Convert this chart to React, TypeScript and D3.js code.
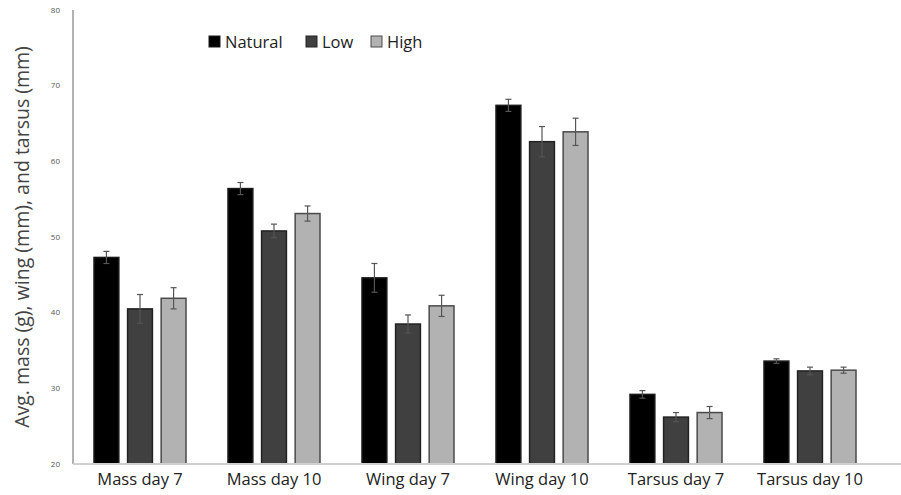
import * as d3 from 'd3';

const categories = ['Mass day 7', 'Mass day 10', 'Wing day 7', 'Wing day 10', 'Tarsus day 7', 'Tarsus day 10'];
const seriesNames = ['Natural', 'Low', 'High'];
const natural = [47.3, 56.4, 44.6, 67.4, 29.2, 33.6];
const low = [40.5, 50.8, 38.5, 62.6, 26.2, 32.3];
const high = [41.9, 53.1, 40.9, 63.9, 26.8, 32.4];
const naturalErr = [0.8, 0.8, 1.9, 0.8, 0.5, 0.3];
const lowErr = [1.9, 0.9, 1.2, 2.0, 0.6, 0.5];
const highErr = [1.4, 1.0, 1.4, 1.8, 0.8, 0.4];
const yTicks = [20, 30, 40, 50, 60, 70, 80];

const fills = ['#000000', '#404040', '#b2b2b2'];
const strokes = ['#1a1a1a', '#222222', '#4a4a4a'];

export default function App() {
  const width = 901;
  const height = 495;
  const margin = { left: 73, right: 24, top: 10, bottom: 31 };

  const x = d3.scaleBand().domain(categories).range([margin.left, width - margin.right]).paddingInner(0).paddingOuter(0);
  const inner = d3.scaleBand().domain(seriesNames).range([0, 92]).paddingInner(0.26);
  const groupOffset = (x.bandwidth() - 92) / 2;
  const y = d3.scaleLinear().domain([20, 80]).range([height - margin.bottom, margin.top]);

  const values = [natural, low, high];
  const errs = [naturalErr, lowErr, highErr];
  const font = '"Open Sans", "Liberation Sans", sans-serif';

  return (
    <svg width={width} height={height} style={{ position: 'absolute', left: 0, top: 0, background: '#fff' }}>
      {/* y axis */}
      <line x1={margin.left} x2={margin.left} y1={y(80)} y2={y(20)} stroke="#999" strokeWidth={1.5} />
      {yTicks.map((t) => (
        <text key={t} x={margin.left - 13} y={y(t)} dy="0.35em" textAnchor="end" fontSize={8} fill="#555" fontFamily={font}>
          {t}
        </text>
      ))}
      <text
        transform={`translate(22, ${(y(20) + y(80)) / 2}) rotate(-90)`}
        textAnchor="middle"
        dy="0.35em"
        fontSize={19.5}
        fill="#444"
        fontFamily={font}
      >
        Avg. mass (g), wing (mm), and tarsus (mm)
      </text>

      {/* bars */}
      {categories.map((c, ci) => (
        <g key={c} transform={`translate(${(x(c) ?? 0) + groupOffset}, 0)`}>
          {seriesNames.map((s, si) => {
            const v = values[si][ci];
            const e = errs[si][ci];
            const bx = inner(s) ?? 0;
            const bw = inner.bandwidth();
            const cx = bx + bw / 2;
            return (
              <g key={s}>
                <rect x={bx} y={y(v)} width={bw} height={y(20) - y(v)} fill={fills[si]} stroke={strokes[si]} strokeWidth={1.5} />
                <line x1={cx} x2={cx} y1={y(v + e)} y2={y(v - e)} stroke="#555" strokeWidth={1.2} />
                <line x1={cx - 3} x2={cx + 3} y1={y(v + e)} y2={y(v + e)} stroke="#555" strokeWidth={1.2} />
                <line x1={cx - 3} x2={cx + 3} y1={y(v - e)} y2={y(v - e)} stroke="#555" strokeWidth={1.2} />
              </g>
            );
          })}
        </g>
      ))}

      {/* x axis */}
      <line x1={margin.left} x2={width} y1={y(20)} y2={y(20)} stroke="#d0d0d0" strokeWidth={2} />
      {categories.map((c) => (
        <text
          key={c}
          x={(x(c) ?? 0) + x.bandwidth() / 2}
          y={y(20) + 21}
          textAnchor="middle"
          fontSize={16.5}
          fill="#222"
          fontFamily={font}
        >
          {c}
        </text>
      ))}

      {/* legend */}
      {seriesNames.map((s, si) => {
        const lx = [209, 306, 371][si];
        return (
          <g key={s} transform={`translate(${lx}, 42)`}>
            <rect x={0} y={-6} width={11} height={11} fill={fills[si]} stroke={strokes[si]} strokeWidth={1} />
            <text x={16} y={0} dy="0.35em" fontSize={16.5} fill="#222" fontFamily={font}>
              {s}
            </text>
          </g>
        );
      })}
    </svg>
  );
}
